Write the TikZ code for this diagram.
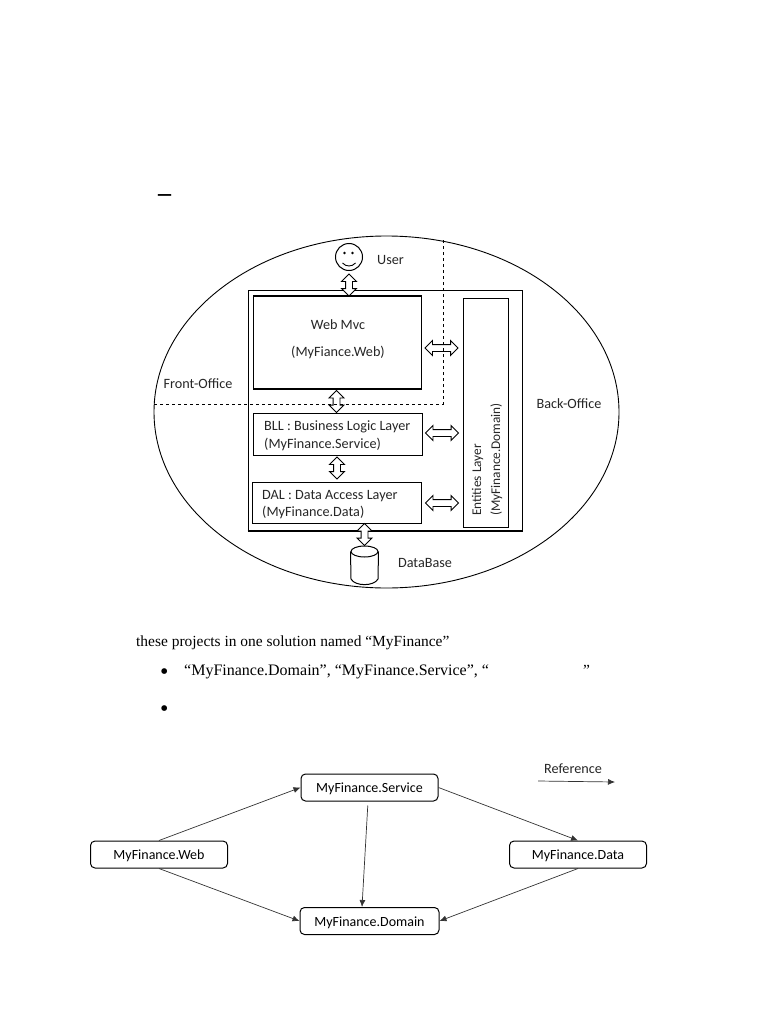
\documentclass[tikz,border=0pt]{standalone}
\usepackage{fontspec}
\setmainfont{Carlito}
\newfontfamily\bodyfont{Liberation Serif}
\usetikzlibrary{positioning,arrows.meta,shapes.arrows,shapes.geometric}

\tikzset{
	layer/.style={draw, line width=1pt, minimum width=#1, inner sep=0pt},
	project/.style={draw, line width=1pt, rounded corners=4.5pt, minimum width=137pt, minimum height=27pt, inner sep=0pt, font=\fontsize{14}{16}\selectfont, text depth=1pt, text height=11pt},
	label/.style={inner sep=0pt, font=\fontsize{14.2}{17}\selectfont, text=black!85},
	bodytext/.style={inner sep=0pt, anchor=base west, font=\bodyfont\fontsize{15.45}{18}\selectfont},
	bullettext/.style={inner sep=0pt, anchor=base west, font=\bodyfont\fontsize{24}{26}\selectfont},
	blockh/.style={double arrow, draw, fill=white, line width=0.9pt, double arrow head extend=4pt, minimum height=33pt, inner xsep=0pt, inner ysep=3pt},
	blockv/.style={blockh, rotate=90, minimum height=22pt},
	refers/.style={-{Latex[length=7pt, width=6pt]}, black!80, line width=0.7pt},
}

\begin{document}
\begin{tikzpicture}[x=1pt, y=-1pt]
		\useasboundingbox (0, 0) rectangle (768, 1024);

		% top of the page
		\node[inner sep=0pt, font=\bodyfont\bfseries\fontsize{26}{28}\selectfont] (dash) at (164.5, 198) {–};

		% architecture
		\begin{scope}
			\node[draw, ellipse, line width=0.9pt, minimum width=465pt, minimum height=352pt, inner sep=0pt] (office) at (386.5, 412) {};
			\draw[line width=1pt] (248, 531) -- (248, 290) -- (522, 290) -- (522, 531);
			\draw[line width=1.7pt] (247.5, 531) -- (522.5, 531);

			\node[layer=168pt, minimum height=93pt, line width=1.2pt] (web) at (337.5, 342.5) {};
			\node[layer=169pt, minimum height=42pt] (bll) at (338, 434) {};
			\node[layer=169pt, minimum height=41pt] (dal) at (337, 502.5) {};
			\node[layer=45pt, minimum height=229pt] (entities) at (485.5, 412.5) {};

			\node[label] (webname) at (338, 324.5) {Web Mvc};
			\node[label] (webproject) at (338, 352) {(MyFiance.Web)};
			\node[label, anchor=west, align=left, font=\fontsize{14.2}{17.5}\selectfont] (blltext) at (264, 436) {BLL : Business Logic Layer\\(MyFinance.Service)};
			\node[label, anchor=west, align=left, font=\fontsize{14.2}{17.5}\selectfont] (daltext) at (262, 504.5) {DAL : Data Access Layer\\(MyFinance.Data)};
			\node[label, rotate=90, anchor=west, align=left, font=\fontsize{13.3}{19}\selectfont] (entitiestext) at (487, 516) {Entities Layer\\(MyFinance.Domain)};

			% user
			\node[draw, circle, line width=1pt, minimum size=27pt, inner sep=0pt] (user) at (349, 257) {};
			\fill (344.5, 253) circle (1.3pt) (352.5, 253) circle (1.3pt);
			\draw[line width=0.9pt] (342.5, 263) .. controls (346, 267) and (352, 267) .. (355.5, 263);
			\node[label] (usertext) at (390.5, 259.5) {User};

			% database
			\node[draw, ellipse, fill=white, line width=1pt, minimum width=27pt, minimum height=11pt, inner sep=0pt] (db) at (364.5, 551.5) {};
			\draw[line width=1pt] (db.west) -- (351, 579) .. controls (355, 586.5) and (374, 586.5) .. (378, 579) -- (db.east);
			\node[label] (dbtext) at (425, 562.5) {DataBase};

			% block arrows
			\node[blockv] (userweb) at (349, 285) {};
			\node[blockv] (webbll) at (336.5, 401.5) {};
			\node[blockv] (blldal) at (337, 468) {};
			\node[blockv] (daldb) at (364.5, 534.5) {};
			\node[blockh] (webent) at (441.5, 348) {};
			\node[blockh] (bllent) at (442, 433) {};
			\node[blockh] (dalent) at (442, 503) {};

			% front and back office
			\draw[dashed, line width=0.7pt] (154, 404) -- (443, 404) -- (443, 240);
			\node[label] (front) at (198, 383.5) {Front-Office};
			\node[label] (back) at (569, 403.5) {Back-Office};
		\end{scope}

		% text of the page
		\node[bodytext] (solution) at (136, 646.5) {these projects in one solution named “MyFinance”};
		\node[bullettext] (bulleta) at (159.8, 679) {•};
		\node[bodytext, font=\bodyfont\fontsize{16}{18}\selectfont] (names) at (184, 675.5) {“MyFinance.Domain”, “MyFinance.Service”, “};
		\node[bodytext] (closing) at (583, 675.5) {”};
		\node[bullettext] (bulletb) at (159.8, 716) {•};

		% references
		\begin{scope}
			\node[project] (service) at (369.5, 787.5) {MyFinance.Service};
			\node[project] (webp) at (159, 854.5) {MyFinance.Web};
			\node[project] (data) at (578, 854.5) {MyFinance.Data};
			\node[project, minimum width=139pt] (domain) at (369.5, 921) {MyFinance.Domain};

			\draw[refers] (webp.north) -- (service.west);
			\draw[refers] (service.east) -- (data.north);
			\draw[refers, shorten <=4pt] ([xshift=-1.5pt]service.south) -- ([xshift=-7.5pt]domain.north);
			\draw[refers] (webp.south) -- (domain.west);
			\draw[refers] (data.south) -- (domain.east);

			\node[label] (reftext) at (573, 768.5) {Reference};
			\coordinate (refa) at (538, 781);
			\coordinate (refb) at (615, 782);
			\draw[refers] (refa) -- (refb);
		\end{scope}
	\end{tikzpicture}
\end{document}
